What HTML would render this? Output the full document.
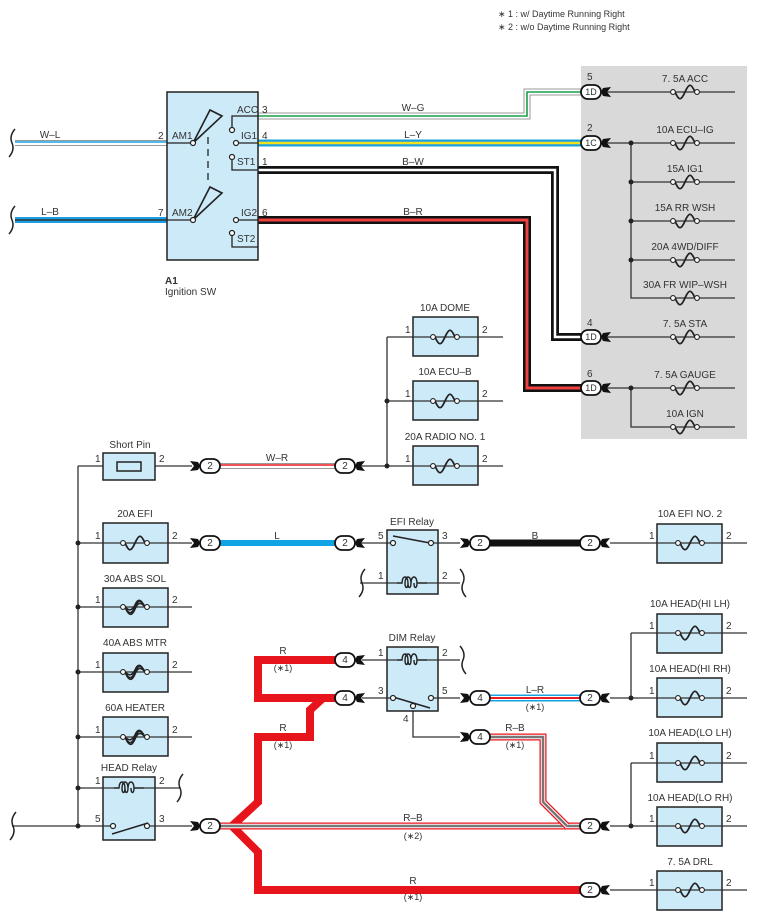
<!DOCTYPE html>
<html><head><meta charset="utf-8"><style>
html,body{margin:0;padding:0;background:#fff;}
svg{display:block;font-family:"Liberation Sans",Arial,sans-serif;}
text{font-size:10px;fill:#333;}
</style></head><body>
<svg width="759" height="923" viewBox="0 0 759 923" xmlns="http://www.w3.org/2000/svg">
<defs>
<g id="fz"><path d="M-10,0 C-6,9 -4,9 0,0 C4,-9 6,-9 10,0" fill="none" stroke="#222" stroke-width="1.8"/><circle cx="-12" cy="0" r="2.4" fill="#fff" stroke="#222" stroke-width="1.1"/><circle cx="12" cy="0" r="2.4" fill="#fff" stroke="#222" stroke-width="1.1"/></g>
<g id="hf"><path d="M-10,0 C-6,8 -3,7 0,0 C3,-7 6,-8 10,0 M-10,0 C-6,4 -3,4 0,-2 C3,-9 6,-8 10,0 M-10,0 C-6,10 -3,9 0,2 C3,-5 6,-5 10,0" fill="none" stroke="#222" stroke-width="1.6"/><circle cx="-12" cy="0" r="2.4" fill="#fff" stroke="#222" stroke-width="1.1"/><circle cx="12" cy="0" r="2.4" fill="#fff" stroke="#222" stroke-width="1.1"/></g>
<g id="coil"><path d="M-15,0 H-10 C-10,-8 -4,-8 -4,0 C-4,6 -7,6 -7,0 M-7,0 C-7,-8 -1,-8 -1,0 C-1,6 -4,6 -4,0 M-1,0 C-1,-8 5,-8 5,0 C5,6 2,6 2,0 M5,0 H15" fill="none" stroke="#222" stroke-width="1.4"/></g>
<g id="ov"><rect x="-10" y="-7" width="20" height="14" rx="7" fill="#fff" stroke="#111" stroke-width="1.8"/></g>
<g id="jl"><path d="M-20,-5 L-12,-4 L-10,0 L-12,4 L-20,5 L-16,0 Z" fill="#111"/></g>
<g id="jr"><path d="M20,-5 L12,-4 L10,0 L12,4 L20,5 L16,0 Z" fill="#111"/></g>
</defs>

<text x="498" y="17" style="font-size:9px">∗ 1 : w/ Daytime Running Right</text>
<text x="498" y="30" style="font-size:9px">∗ 2 : w/o Daytime Running Right</text>

<rect x="581" y="66" width="166" height="373" fill="#d9d9d9"/>

<g stroke="#333" stroke-width="1.3" fill="none">
<path d="M601,92H735 M601,143H735 M631,143V298H735 M631,182H735 M631,221H735 M631,260H735 M601,337H735 M601,388H735 M631,388V427H735"/>
</g>
<g fill="#222"><circle cx="631" cy="143" r="2.5"/><circle cx="631" cy="182" r="2.5"/><circle cx="631" cy="221" r="2.5"/><circle cx="631" cy="260" r="2.5"/><circle cx="631" cy="388" r="2.5"/></g>
<use href="#fz" x="685" y="92"/><use href="#fz" x="685" y="143"/><use href="#fz" x="685" y="182"/><use href="#fz" x="685" y="221"/><use href="#fz" x="685" y="260"/><use href="#fz" x="685" y="298"/><use href="#fz" x="685" y="337"/><use href="#fz" x="685" y="388"/><use href="#fz" x="685" y="427"/>
<g text-anchor="middle"><text x="685" y="82">7. 5A ACC</text><text x="685" y="133">10A ECU–IG</text><text x="685" y="172">15A IG1</text><text x="685" y="211">15A RR WSH</text><text x="685" y="250">20A 4WD/DIFF</text><text x="685" y="288">30A FR WIP–WSH</text><text x="685" y="327">7. 5A STA</text><text x="685" y="378">7. 5A GAUGE</text><text x="685" y="417">10A IGN</text></g>

<path d="M15,143H167" stroke="#999" stroke-width="6" fill="none"/><path d="M15,143H167" stroke="#fff" stroke-width="4" fill="none"/><path d="M15,142H167" stroke="#1aa0e0" stroke-width="1.6" fill="none"/>
<path d="M15,220H167" stroke="#1aa0e0" stroke-width="6" fill="none"/><path d="M15,220H167" stroke="#333" stroke-width="1.6" fill="none"/>
<path d="M258,116H527V92H581" stroke="#999" stroke-width="7" fill="none"/><path d="M258,116H527V92H581" stroke="#fff" stroke-width="5" fill="none"/><path d="M258,116H527V92H581" stroke="#1aa04a" stroke-width="1.6" fill="none"/>
<path d="M258,143H581" stroke="#1aa0e0" stroke-width="7" fill="none"/><path d="M258,143H581" stroke="#f0e020" stroke-width="2.5" fill="none"/>
<path d="M258,170H555V337H581" stroke="#111" stroke-width="8" fill="none"/><path d="M258,170H555V337H581" stroke="#fff" stroke-width="2.5" fill="none"/>
<path d="M258,220H527V388H581" stroke="#111" stroke-width="8" fill="none"/><path d="M258,220H527V388H581" stroke="#f04040" stroke-width="3" fill="none"/>
<g text-anchor="middle"><text x="50" y="138">W–L</text><text x="50" y="215">L–B</text><text x="413" y="111">W–G</text><text x="413" y="138">L–Y</text><text x="413" y="165">B–W</text><text x="413" y="215">B–R</text></g>
<path d="M15,129 Q9,136 12,143 Q15,150 9,157" stroke="#222" stroke-width="1.5" fill="none"/>
<path d="M15,206 Q9,213 12,220 Q15,227 9,234" stroke="#222" stroke-width="1.5" fill="none"/>

<use href="#ov" x="591" y="92"/><use href="#ov" x="591" y="143"/><use href="#ov" x="591" y="337"/><use href="#ov" x="591" y="388"/>
<use href="#jr" x="591" y="92"/><use href="#jr" x="591" y="143"/><use href="#jr" x="591" y="337"/><use href="#jr" x="591" y="388"/>
<g text-anchor="middle"><text x="591" y="95" style="font-size:9px">1D</text><text x="591" y="146" style="font-size:9px">1C</text><text x="591" y="340" style="font-size:9px">1D</text><text x="591" y="391" style="font-size:9px">1D</text></g>
<text x="587" y="80">5</text><text x="587" y="131">2</text><text x="587" y="326">4</text><text x="587" y="377">6</text>

<rect x="167" y="92" width="91" height="168" fill="#cdeaf8" stroke="#222" stroke-width="1.5"/>
<g stroke="#222" stroke-width="1.3" fill="none">
<path d="M167,143H193 M167,220H193 M258,116H232V128 M258,143H239 M232,160V170H258 M258,220H239 M232,236V247H258"/>
<path d="M193,143 L210,110 L222,116 Z" stroke-width="1.6"/><path d="M193,220 L210,187 L222,193 Z" stroke-width="1.6"/>
<path d="M208,137V184" stroke-dasharray="7,5"/>
</g>
<g fill="#fff" stroke="#222" stroke-width="1.2"><circle cx="193" cy="143" r="2.5"/><circle cx="193" cy="220" r="2.5"/><circle cx="232" cy="130" r="2.5"/><circle cx="236" cy="143" r="2.5"/><circle cx="232" cy="157" r="2.5"/><circle cx="236" cy="220" r="2.5"/><circle cx="232" cy="233" r="2.5"/></g>
<text x="237" y="113">ACC</text><text x="241" y="139">IG1</text><text x="237" y="165">ST1</text><text x="241" y="216">IG2</text><text x="237" y="242">ST2</text>
<text x="172" y="139">AM1</text><text x="172" y="216">AM2</text>
<text x="158" y="139">2</text><text x="158" y="216">7</text><text x="262" y="113">3</text><text x="262" y="139">4</text><text x="262" y="165">1</text><text x="262" y="216">6</text>
<text x="165" y="284" style="font-weight:bold">A1</text><text x="165" y="295">Ignition SW</text>

<g stroke="#333" stroke-width="1.3" fill="none">
<path d="M78,466V826 M78,466H103 M155,466H192 M78,543H103 M168,543H192 M78,607H103 M168,607H192 M78,672H103 M168,672H192 M78,737H103 M168,737H192 M78,788H103 M155,788H180 M12,826H103 M155,826H192"/>
<path d="M360,466H413 M387,337V466 M387,337H413 M387,401H413 M478,337H503 M478,401H503 M478,466H503"/>
<path d="M360,543H387 M438,543H460 M360,583H387 M438,583H460"/>
<path d="M610,543H657 M722,543H747"/>
<path d="M362,660H387 M438,660H460 M362,698H387 M438,698H460 M413,708V737H460"/>
<path d="M610,698H657 M631,633V698 M631,633H657 M610,826H657 M631,763V826 M631,763H657 M610,890H657"/>
<path d="M722,633H747 M722,698H747 M722,763H747 M722,826H747 M722,890H747"/>
</g>
<g fill="#222"><circle cx="78" cy="543" r="2.5"/><circle cx="78" cy="607" r="2.5"/><circle cx="78" cy="672" r="2.5"/><circle cx="78" cy="737" r="2.5"/><circle cx="78" cy="788" r="2.5"/><circle cx="78" cy="826" r="2.5"/><circle cx="387" cy="401" r="2.5"/><circle cx="387" cy="466" r="2.5"/><circle cx="631" cy="698" r="2.5"/><circle cx="631" cy="826" r="2.5"/></g>
<g stroke="#222" stroke-width="1.5" fill="none">
<path d="M16,812 Q10,819 13,826 Q16,833 10,840"/>
<path d="M183,774 Q177,781 180,788 Q183,795 177,802"/>
<path d="M365,569 Q359,576 362,583 Q365,590 359,597"/>
<path d="M460,569 Q466,576 463,583 Q460,590 466,597"/>
<path d="M460,646 Q466,653 463,660 Q460,667 466,674"/>
</g>

<g fill="#cdeaf8" stroke="#222" stroke-width="1.5">
<rect x="103" y="453" width="52" height="27"/>
<rect x="103" y="523" width="65" height="40"/><rect x="103" y="588" width="65" height="39"/><rect x="103" y="653" width="65" height="39"/><rect x="103" y="717" width="65" height="39"/>
<rect x="103" y="777" width="52" height="63"/>
<rect x="413" y="317" width="65" height="39"/><rect x="413" y="381" width="65" height="39"/><rect x="413" y="446" width="65" height="39"/>
<rect x="387" y="530" width="51" height="64"/><rect x="387" y="647" width="51" height="64"/>
<rect x="657" y="524" width="65" height="39"/><rect x="657" y="614" width="65" height="39"/><rect x="657" y="678" width="65" height="39"/><rect x="657" y="743" width="65" height="39"/><rect x="657" y="807" width="65" height="39"/><rect x="657" y="871" width="65" height="39"/>
</g>
<rect x="117" y="462" width="24" height="9" fill="#cdeaf8" stroke="#222" stroke-width="1.5"/>
<g stroke="#333" stroke-width="1.3" fill="none"><path d="M103,543H168 M103,607H168 M103,672H168 M103,737H168 M413,337H478 M413,401H478 M413,466H478 M657,543H722 M657,633H722 M657,698H722 M657,763H722 M657,826H722 M657,890H722"/>
<path d="M103,788H114 M144,788H155 M103,826H113 M150,826H155 M387,543H391 M434,543H438 M387,583H397 M427,583H438 M387,660H397 M427,660H438 M387,698H391 M434,698H438"/></g>
<use href="#fz" x="135" y="543"/><use href="#hf" x="135" y="607"/><use href="#hf" x="135" y="672"/><use href="#hf" x="135" y="737"/>
<use href="#fz" x="445" y="337"/><use href="#fz" x="445" y="401"/><use href="#fz" x="445" y="466"/>
<use href="#fz" x="690" y="543"/><use href="#fz" x="690" y="633"/><use href="#fz" x="690" y="698"/><use href="#fz" x="690" y="763"/><use href="#fz" x="690" y="826"/><use href="#fz" x="690" y="890"/>
<use href="#coil" x="129" y="788"/><use href="#coil" x="412" y="583"/><use href="#coil" x="412" y="660"/>
<g stroke="#222" stroke-width="1.5" fill="none">
<path d="M112,834 L148,823"/><path d="M393,536 L430,543"/><path d="M393,697 L430,708"/>
</g>
<g fill="#fff" stroke="#222" stroke-width="1.2"><circle cx="113" cy="826" r="2.5"/><circle cx="147" cy="826" r="2.5"/><circle cx="393" cy="543" r="2.5"/><circle cx="431" cy="543" r="2.5"/><circle cx="393" cy="698" r="2.5"/><circle cx="431" cy="698" r="2.5"/><circle cx="413" cy="706" r="2.5"/></g>

<path d="M220,466H335" stroke="#999" stroke-width="6" fill="none"/><path d="M220,466H335" stroke="#fff" stroke-width="4" fill="none"/><path d="M220,465H335" stroke="#e81c24" stroke-width="1.6" fill="none"/>
<path d="M220,543H335" stroke="#10a4e4" stroke-width="6" fill="none"/>
<path d="M490,543H580" stroke="#111" stroke-width="7" fill="none"/>
<path d="M490,698H580" stroke="#1aa0e0" stroke-width="7" fill="none"/><path d="M490,698H580" stroke="#fff" stroke-width="4" fill="none"/><path d="M490,698H580" stroke="#e81c24" stroke-width="2" fill="none"/>
<g fill="none" stroke-linejoin="miter">
<path d="M335,660H258V698H335 M323,698L310,710V737H258V802L232,826L258,852V890H580" stroke="#e8141c" stroke-width="8"/>
<path d="M220,826H580" stroke="#e8141c" stroke-width="7"/><path d="M220,826H580" stroke="#fff" stroke-width="4.5"/><path d="M220,826H580" stroke="#777" stroke-width="2.5"/>
<path d="M490,737H543V802L567,826" stroke="#e8141c" stroke-width="7"/><path d="M490,737H543V802L567,826" stroke="#fff" stroke-width="4.5"/><path d="M490,737H543V802L567,826" stroke="#777" stroke-width="2.5"/>
</g>

<use href="#ov" x="210" y="466"/><use href="#jl" x="210" y="466"/><use href="#ov" x="345" y="466"/><use href="#jr" x="345" y="466"/>
<use href="#ov" x="210" y="543"/><use href="#jl" x="210" y="543"/><use href="#ov" x="345" y="543"/><use href="#jr" x="345" y="543"/>
<use href="#ov" x="480" y="543"/><use href="#jl" x="480" y="543"/><use href="#ov" x="590" y="543"/><use href="#jr" x="590" y="543"/>
<use href="#ov" x="345" y="660"/><use href="#jr" x="345" y="660"/><use href="#ov" x="345" y="698"/><use href="#jr" x="345" y="698"/>
<use href="#ov" x="480" y="698"/><use href="#jl" x="480" y="698"/><use href="#ov" x="590" y="698"/><use href="#jr" x="590" y="698"/>
<use href="#ov" x="480" y="737"/><use href="#jl" x="480" y="737"/>
<use href="#ov" x="210" y="826"/><use href="#jl" x="210" y="826"/><use href="#ov" x="590" y="826"/><use href="#jr" x="590" y="826"/><use href="#ov" x="590" y="890"/><use href="#jr" x="590" y="890"/>
<g text-anchor="middle" style="font-size:9px">
<text x="210" y="469">2</text><text x="345" y="469">2</text><text x="210" y="546">2</text><text x="345" y="546">2</text><text x="480" y="546">2</text><text x="590" y="546">2</text>
<text x="345" y="663">4</text><text x="345" y="701">4</text><text x="480" y="701">4</text><text x="590" y="701">2</text><text x="480" y="740">4</text>
<text x="210" y="829">2</text><text x="590" y="829">2</text><text x="590" y="893">2</text>
</g>

<g text-anchor="middle">
<text x="130" y="448">Short Pin</text><text x="135" y="517">20A EFI</text><text x="135" y="582">30A ABS SOL</text><text x="135" y="646">40A ABS MTR</text><text x="135" y="711">60A HEATER</text><text x="129" y="771">HEAD Relay</text>
<text x="445" y="311">10A DOME</text><text x="445" y="375">10A ECU–B</text><text x="445" y="440">20A RADIO NO. 1</text>
<text x="412" y="525">EFI Relay</text><text x="412" y="641">DIM Relay</text>
<text x="690" y="517">10A EFI NO. 2</text><text x="690" y="607">10A HEAD(HI LH)</text><text x="690" y="672">10A HEAD(HI RH)</text><text x="690" y="736">10A HEAD(LO LH)</text><text x="690" y="801">10A HEAD(LO RH)</text><text x="690" y="865">7. 5A DRL</text>
<text x="277" y="461">W–R</text><text x="277" y="539">L</text><text x="535" y="539">B</text>
<text x="283" y="654">R</text><text x="283" y="671" style="font-size:9px">(∗1)</text><text x="283" y="731">R</text><text x="283" y="748" style="font-size:9px">(∗1)</text>
<text x="535" y="693">L–R</text><text x="535" y="710" style="font-size:9px">(∗1)</text><text x="515" y="731">R–B</text><text x="515" y="748" style="font-size:9px">(∗1)</text>
<text x="413" y="821">R–B</text><text x="413" y="839" style="font-size:9px">(∗2)</text><text x="413" y="884">R</text><text x="413" y="900" style="font-size:9px">(∗1)</text>
</g>
<g style="font-size:9px">
<text x="95" y="462">1</text><text x="159" y="462">2</text><text x="95" y="539">1</text><text x="172" y="539">2</text><text x="95" y="603">1</text><text x="172" y="603">2</text><text x="95" y="668">1</text><text x="172" y="668">2</text><text x="95" y="733">1</text><text x="172" y="733">2</text><text x="95" y="784">1</text><text x="159" y="784">2</text><text x="95" y="822">5</text><text x="159" y="822">3</text>
<text x="405" y="333">1</text><text x="482" y="333">2</text><text x="405" y="397">1</text><text x="482" y="397">2</text><text x="405" y="462">1</text><text x="482" y="462">2</text>
<text x="378" y="539">5</text><text x="442" y="539">3</text><text x="378" y="579">1</text><text x="442" y="579">2</text>
<text x="378" y="656">1</text><text x="442" y="656">2</text><text x="378" y="694">3</text><text x="442" y="694">5</text><text x="403" y="722">4</text>
<text x="649" y="539">1</text><text x="726" y="539">2</text><text x="649" y="629">1</text><text x="726" y="629">2</text><text x="649" y="694">1</text><text x="726" y="694">2</text><text x="649" y="759">1</text><text x="726" y="759">2</text><text x="649" y="822">1</text><text x="726" y="822">2</text><text x="649" y="886">1</text><text x="726" y="886">2</text>
</g>
</svg>
</body></html>
